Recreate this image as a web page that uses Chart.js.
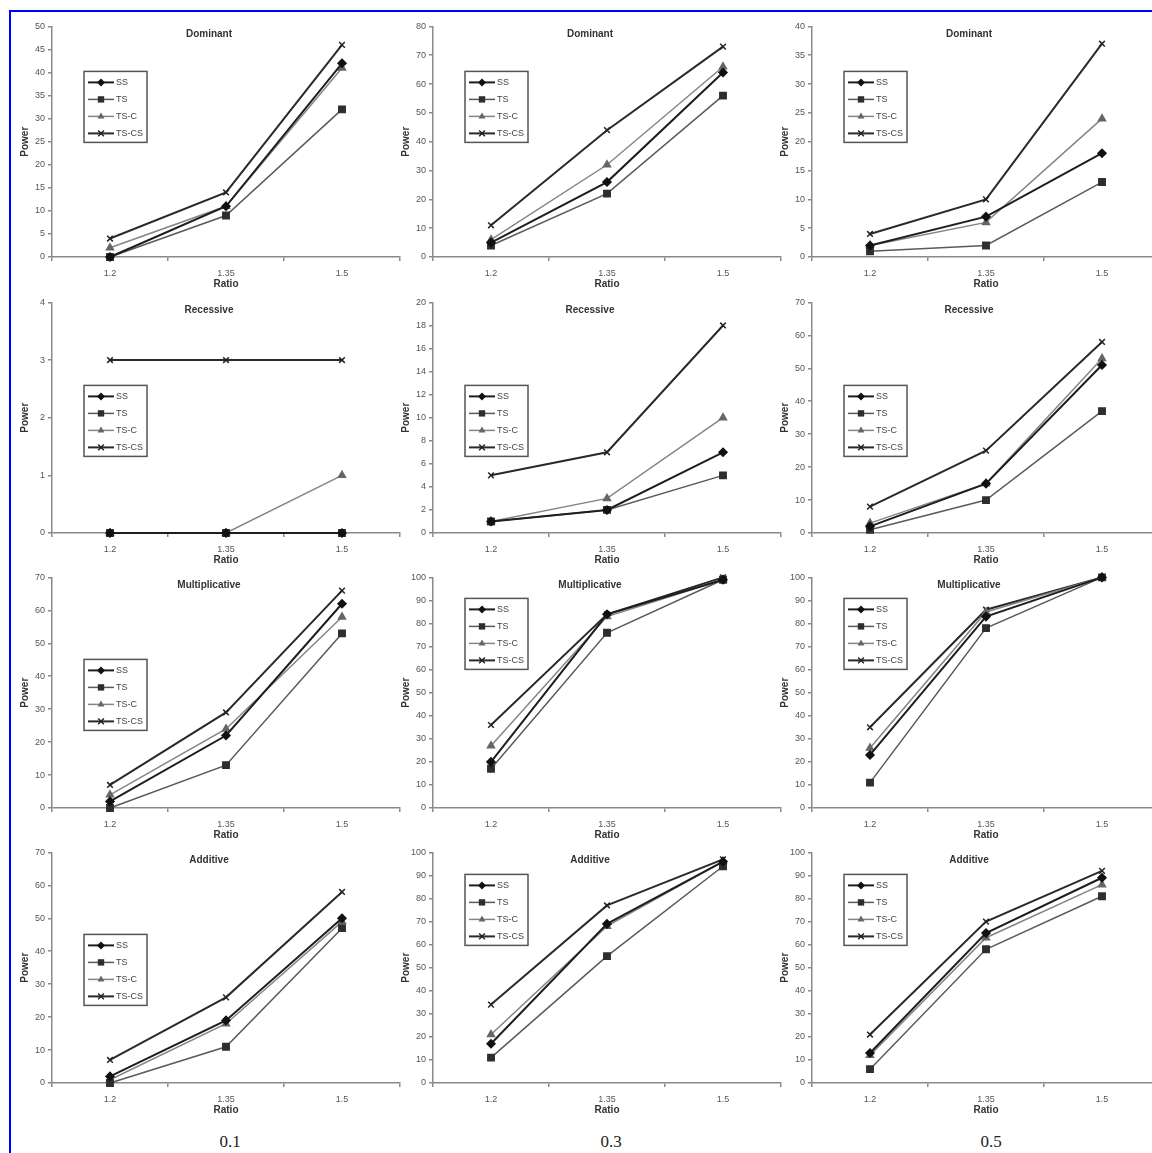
<!DOCTYPE html>
<html><head><meta charset="utf-8">
<script src="https://cdn.jsdelivr.net/npm/chart.js@4.4.1/dist/chart.umd.min.js"></script>
<style>
html,body{margin:0;padding:0;background:#fff;}
body{width:1152px;height:1153px;position:relative;overflow:hidden;font-family:"Liberation Sans",Arial,sans-serif;}
.frame{position:absolute;left:9px;top:10px;width:1170px;height:1170px;border-left:2px solid #0000ff;border-top:2px solid #0000ff;}
canvas{position:absolute;}
.lbl{position:absolute;font-family:"Liberation Serif","Times New Roman",serif;font-size:17px;line-height:20px;color:#222;transform:translateX(-50%);}
</style></head><body>
<div class="frame"></div>
<script>
// ---------- data ----------
const ratios = ['1.2', '1.35', '1.5'];
const seriesNames = ['SS', 'TS', 'TS-C', 'TS-CS'];
const models = ['Dominant', 'Recessive', 'Multiplicative', 'Additive'];
const freqs = ['0.1', '0.3', '0.5'];

// each panel: [SS, TS, TS-C, TS-CS], values at ratios 1.2, 1.35, 1.5
const dominant01 = [[0, 11, 42], [0, 9, 32], [2, 11, 41], [4, 14, 46]];
const dominant03 = [[5, 26, 64], [4, 22, 56], [6, 32, 66], [11, 44, 73]];
const dominant05 = [[2, 7, 18], [1, 2, 13], [2, 6, 24], [4, 10, 37]];
const recessive01 = [[0, 0, 0], [0, 0, 0], [0, 0, 1], [3, 3, 3]];
const recessive03 = [[1, 2, 7], [1, 2, 5], [1, 3, 10], [5, 7, 18]];
const recessive05 = [[2, 15, 51], [1, 10, 37], [3, 15, 53], [8, 25, 58]];
const multiplicative01 = [[2, 22, 62], [0, 13, 53], [4, 24, 58], [7, 29, 66]];
const multiplicative03 = [[20, 84, 99], [17, 76, 99], [27, 83, 99], [36, 84, 100]];
const multiplicative05 = [[23, 83, 100], [11, 78, 100], [26, 85, 100], [35, 86, 100]];
const additive01 = [[2, 19, 50], [0, 11, 47], [1, 18, 49], [7, 26, 58]];
const additive03 = [[17, 69, 96], [11, 55, 94], [21, 68, 96], [34, 77, 97]];
const additive05 = [[13, 65, 89], [6, 58, 81], [12, 63, 86], [21, 70, 92]];

// y axis ranges (max, step) per row / column
const yMax = [[50, 80, 40], [4, 20, 70], [70, 100, 100], [70, 100, 100]];
const yStep = [[5, 10, 5], [1, 2, 10], [10, 10, 10], [10, 10, 10]];

// ---------- layout / style ----------
const panels = [
  [dominant01, dominant03, dominant05],
  [recessive01, recessive03, recessive05],
  [multiplicative01, multiplicative03, multiplicative05],
  [additive01, additive03, additive05]
];
const colLeft = [52, 433, 812];
const rowTop = [24, 300, 575, 850];
const plotW = 348, plotH = 233;
const yAxW = 36, padTop = 6, padRight = 6, xAxH = 35, padBottom = 2;
const legendTop = [[45, 45, 45], [83, 83, 83], [82, 21, 21], [82, 22, 22]];
const legendLeft = 32;
const FONT = '"Liberation Sans", Arial, sans-serif';
const styles = [
  { line: '#1e1e1e', point: '#111111', width: 2, ps: 'rectRot', r: 4 },
  { line: '#5a5a5a', point: '#2e2e2e', width: 1.5, ps: 'rect', r: 4.5 },
  { line: '#858585', point: '#666666', width: 1.5, ps: 'triangle', r: 4 },
  { line: '#2a2a2a', point: '#222222', width: 2, ps: 'crossRot', r: 4 }
];

function drawMarker(ctx, ps, x, y, r, color) {
  ctx.save();
  ctx.fillStyle = color; ctx.strokeStyle = color; ctx.lineWidth = 1.5;
  ctx.beginPath();
  if (ps === 'rectRot') {
    ctx.moveTo(x, y - r); ctx.lineTo(x + r, y); ctx.lineTo(x, y + r); ctx.lineTo(x - r, y); ctx.closePath(); ctx.fill();
  } else if (ps === 'rect') {
    const s = r * Math.SQRT1_2; ctx.rect(x - s, y - s, 2 * s, 2 * s); ctx.fill();
  } else if (ps === 'triangle') {
    ctx.moveTo(x, y - r); ctx.lineTo(x + r * 0.87, y + r * 0.5); ctx.lineTo(x - r * 0.87, y + r * 0.5); ctx.closePath(); ctx.fill();
  } else {
    const s = r * Math.SQRT1_2;
    ctx.moveTo(x - s, y - s); ctx.lineTo(x + s, y + s); ctx.moveTo(x + s, y - s); ctx.lineTo(x - s, y + s); ctx.stroke();
  }
  ctx.restore();
}

function makePanel(r, c) {
  const cv = document.createElement('canvas');
  const W = yAxW + plotW + padRight, H = padTop + plotH + xAxH + padBottom;
  cv.width = W; cv.height = H;
  cv.style.width = W + 'px'; cv.style.height = H + 'px';
  cv.style.left = (colLeft[c] - yAxW) + 'px';
  cv.style.top = (rowTop[r] - padTop) + 'px';
  document.body.appendChild(cv);

  const data = panels[r][c];
  const datasets = seriesNames.map((name, i) => ({
    label: name,
    data: data[i],
    borderColor: styles[i].line,
    borderWidth: styles[i].width,
    backgroundColor: styles[i].point,
    pointBackgroundColor: styles[i].point,
    pointBorderColor: styles[i].point,
    pointBorderWidth: 1.5,
    pointStyle: styles[i].ps,
    pointRadius: styles[i].r,
    tension: 0,
    clip: false
  }));

  const overlay = {
    id: 'overlay' + r + c,
    afterDraw(chart) {
      const ctx = chart.ctx, a = chart.chartArea;
      ctx.save();
      // panel title
      ctx.font = 'bold 10px ' + FONT;
      ctx.fillStyle = '#333';
      ctx.textAlign = 'center'; ctx.textBaseline = 'middle';
      ctx.fillText(models[r], a.left + a.width / 2 - 17, a.top + 8);
      // legend box
      const bx = a.left + legendLeft, by = a.top + legendTop[r][c], bw = 63, bh = 71;
      ctx.fillStyle = '#fff';
      ctx.fillRect(bx, by, bw, bh);
      ctx.strokeStyle = '#555'; ctx.lineWidth = 1.5;
      ctx.strokeRect(bx, by, bw, bh);
      ctx.font = '9px ' + FONT;
      ctx.textAlign = 'left';
      chart.data.datasets.forEach((ds, i) => {
        const yy = by + 11 + i * 17;
        ctx.strokeStyle = styles[i].line; ctx.lineWidth = styles[i].width;
        ctx.beginPath(); ctx.moveTo(bx + 4, yy); ctx.lineTo(bx + 30, yy); ctx.stroke();
        drawMarker(ctx, styles[i].ps, bx + 17, yy, styles[i].r, styles[i].point);
        ctx.fillStyle = '#444';
        ctx.fillText(ds.label, bx + 32, yy + 0.5);
      });
      ctx.restore();
    }
  };

  new Chart(cv, {
    type: 'line',
    data: { labels: ratios, datasets },
    plugins: [overlay],
    options: {
      responsive: false, animation: false, devicePixelRatio: 1,
      layout: { padding: { left: 0, top: padTop, right: padRight, bottom: padBottom } },
      plugins: { legend: { display: false }, tooltip: { enabled: false }, title: { display: false } },
      elements: { line: { tension: 0 } },
      scales: {
        x: {
          type: 'category', offset: true,
          grid: { display: true, offset: true, drawOnChartArea: false, drawTicks: true, tickLength: 4, color: '#8a8a8a', lineWidth: 1.5 },
          border: { display: true, color: '#8a8a8a', width: 1.5 },
          ticks: { font: { family: FONT, size: 9 }, color: '#555', padding: 7, maxRotation: 0, autoSkip: false },
          title: { display: true, text: 'Ratio', font: { family: FONT, size: 10, weight: 'bold' }, color: '#333', padding: { top: 0, bottom: 1.5 } },
          afterFit(s) { s.height = xAxH; }
        },
        y: {
          min: 0, max: yMax[r][c],
          ticks: { stepSize: yStep[r][c], font: { family: FONT, size: 9 }, color: '#555', padding: 3 },
          grid: { display: true, drawOnChartArea: false, drawTicks: true, tickLength: 4, color: '#8a8a8a', lineWidth: 1.5 },
          border: { display: true, color: '#8a8a8a', width: 1.5 },
          title: { display: true, text: 'Power', font: { family: FONT, size: 10, weight: 'bold' }, color: '#333', padding: { top: 3, bottom: 0 } },
          afterFit(s) { s.width = yAxW; }
        }
      }
    }
  });
}

for (let r = 0; r < 4; r++) for (let c = 0; c < 3; c++) makePanel(r, c);

// bottom frequency labels
const freqX = [230, 611, 991];
freqs.forEach((f, i) => {
  const d = document.createElement('div');
  d.className = 'lbl';
  d.textContent = f;
  d.style.left = freqX[i] + 'px';
  d.style.top = '1132px';
  document.body.appendChild(d);
});
</script>
</body></html>
